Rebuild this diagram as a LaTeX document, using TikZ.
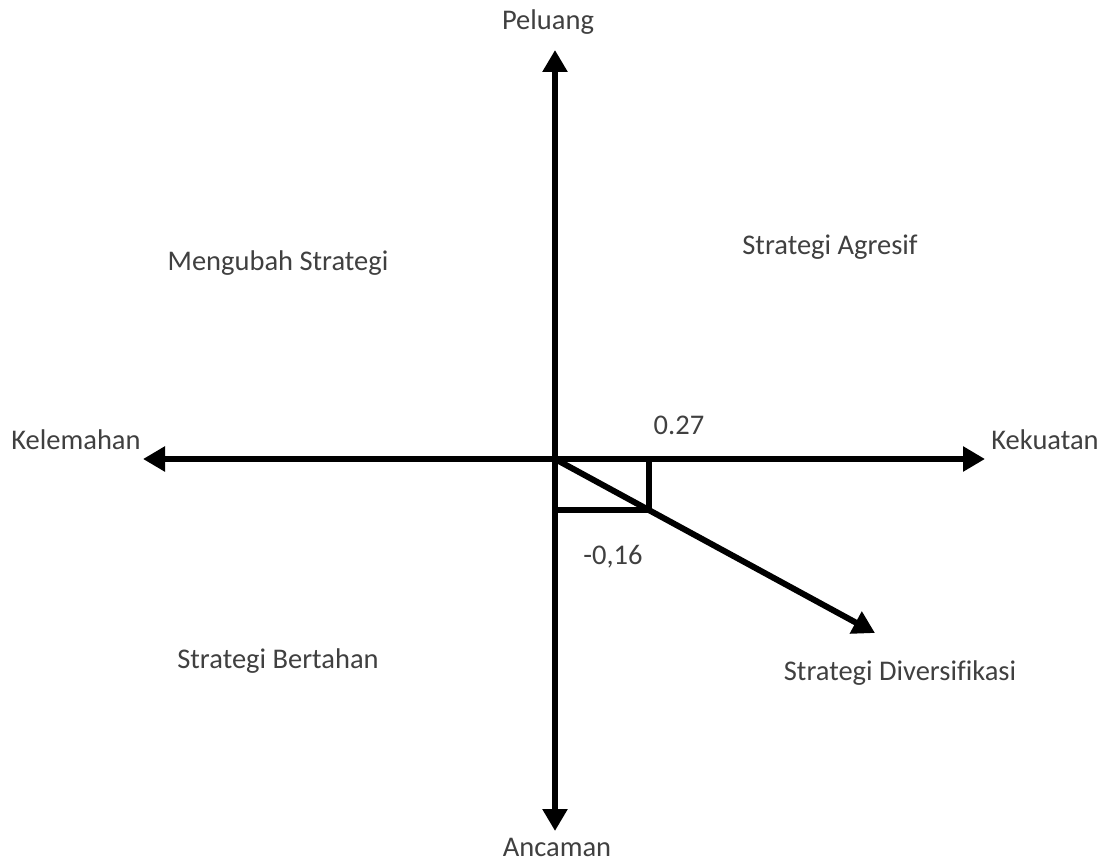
\documentclass[tikz,border=0pt]{standalone}
\usepackage{fontspec}
\setmainfont[Ligatures=CommonOff]{Carlito}
\usetikzlibrary{arrows.meta}
\definecolor{txt}{HTML}{404040}
\begin{document}
\begin{tikzpicture}[x=1pt,y=-1pt,
  axis/.style={line width=6pt,-{Triangle[width=24pt,length=22pt]}},
  lbl/.style={text=txt,font=\fontsize{28.5}{34}\selectfont,inner sep=0pt}]
\useasboundingbox (0,0) rectangle (1107,861);
\coordinate (O) at (555,459);
\coordinate (top) at (555,50);
\coordinate (bot) at (555,831);
\coordinate (left) at (143,459);
\coordinate (right) at (985,459);
\coordinate (diag) at (875,633);
\coordinate (rc) at (648.5,509.5);
\draw[axis] (O) -- (top);
\draw[axis] (O) -- (bot);
\draw[axis] (O) -- (left);
\draw[axis] (O) -- (right);
\draw[line width=6pt,line join=miter] (O) -| (rc) -| (O);
\draw[axis] (O) -- (diag);
\node[lbl] (peluang) at (548,22) {Peluang};
\node[lbl] (kelemahan) at (76,440) {Kelemahan};
\node[lbl] (kekuatan) at (1045,440) {Kekuatan};
\node[lbl] (ancaman) at (557,847) {Ancaman};
\node[lbl] (mengubah) at (278,263) {Mengubah Strategi};
\node[lbl] (agresif) at (830,247) {Strategi Agresif};
\node[lbl] (v1) at (679,425) {0.27};
\node[lbl] (v2) at (613,557) {-0,16};
\node[lbl] (bertahan) at (278,661) {Strategi Bertahan};
\node[lbl] (divers) at (900,673) {Strategi Diversifikasi};
\end{tikzpicture}
\end{document}
